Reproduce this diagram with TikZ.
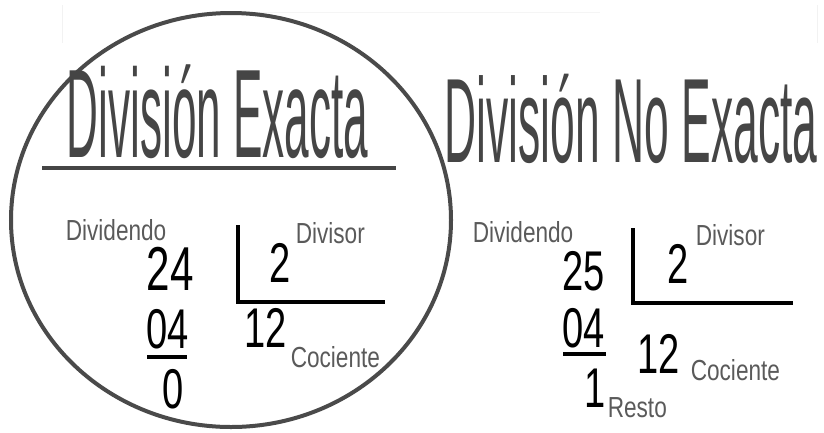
\documentclass[tikz,border=0pt]{standalone}
\usepackage{fontspec}
\setmainfont{Liberation Sans}
\newfontfamily\titulofont[FakeStretch=0.35]{Liberation Sans}
\newfontfamily\titulobfont[FakeStretch=0.37]{Liberation Sans}
\newfontfamily\numfont[FakeStretch=0.68]{Liberation Sans}
\newfontfamily\etiqfont[FakeStretch=0.78]{Liberation Sans}
\definecolor{grisTit}{HTML}{454545}
\definecolor{grisEtiq}{HTML}{5A5A5A}
\definecolor{grisAro}{HTML}{4A4A4A}
\tikzset{
  titulo/.style={anchor=base west,inner sep=0pt,text=grisTit,font=\titulofont\fontsize{126}{126}\selectfont},
  numero/.style={anchor=base west,inner sep=0pt,text=black,font=\numfont\fontsize{56}{56}\selectfont},
  etiqueta/.style={anchor=base west,inner sep=0pt,text=grisEtiq,font=\etiqfont\fontsize{29}{29}\selectfont},
}
\begin{document}
\begin{tikzpicture}[x=1pt,y=-1pt,line width=3.5pt]
		\useasboundingbox (0,0) rectangle (824,432);
		
		%bordes tenues
		\draw[gray!10,line width=1pt] (62,5) -- (62,43);
		\draw[gray!10,line width=1pt] (817,5) -- (817,43);
		\draw[gray!8,line width=1pt] (240,12) -- (600,12);
		
		%elipse
		\draw[grisAro,line width=4pt] (231,220) ellipse [x radius=220,y radius=207];
		
		%division exacta
		\node[titulo] (titExacta) at (65,157) {División Exacta};
		\draw[grisTit,line width=4.5pt] (42,168) -- (396,168);
		
		\node[etiqueta] (dvdoA) at (64,240) {Dividendo};
		\node[numero,font=\numfont\fontsize{62}{62}\selectfont] (n24) at (145,290) {24};
		\draw (238,225) -- (238,302) -- (385,302);
		\node[numero] (dsorA) at (268,282) {2};
		\node[etiqueta] (divisorA) at (294,243) {Divisor};
		\node[numero] (n04A) at (145,348) {04};
		\draw (147,357) -- (187,357);
		\node[numero] (n0) at (161,408) {0};
		\node[numero] (cocA) at (243,347) {12};
		\node[etiqueta] (cocienteA) at (289,367) {Cociente};
		
		%division no exacta
		\node[titulo,font=\titulobfont\fontsize{120}{120}\selectfont] (titNoExacta) at (443,162) {División No Exacta};
		
		\node[etiqueta] (dvdoB) at (471,242) {Dividendo};
		\node[numero] (n25) at (561,290) {25};
		\draw (633,228) -- (633,303) -- (793,303);
		\node[numero] (dsorB) at (666,283) {2};
		\node[etiqueta] (divisorB) at (694,245) {Divisor};
		\node[numero] (n04B) at (561,347) {04};
		\draw (563,354) -- (606,354);
		\node[numero] (n1) at (583,407) {1};
		\node[etiqueta] (resto) at (606,417) {Resto};
		\node[numero] (cocB) at (636,373) {12};
		\node[etiqueta] (cocienteB) at (689,380) {Cociente};
	\end{tikzpicture}
\end{document}
